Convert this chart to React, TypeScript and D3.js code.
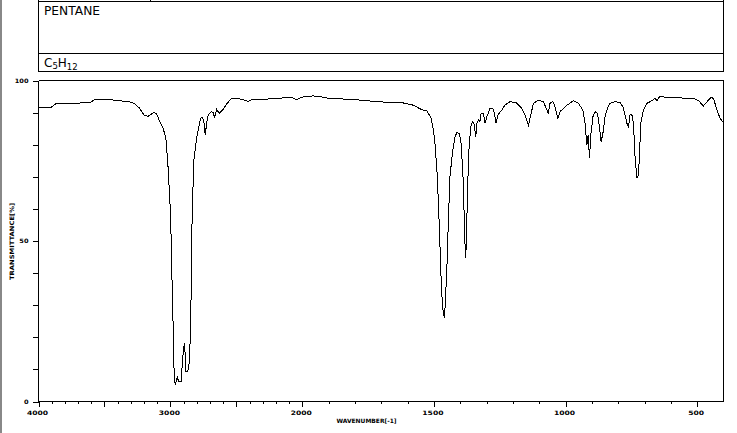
import React from 'react';
import * as d3 from 'd3';

const wavenumber = [
  4000, 3954, 3904, 3866, 3778, 3677, 3601, 3575, 3449, 3398,
  3322, 3272, 3234, 3201, 3171, 3125, 3106, 3080, 3055, 3034,
  3017, 2998, 2991, 2979, 2973, 2964, 2948, 2938, 2918, 2910,
  2903, 2895, 2888, 2882, 2870, 2860, 2852, 2844, 2835, 2822,
  2801, 2784, 2771, 2756, 2746, 2736, 2725, 2713, 2687, 2675,
  2665, 2650, 2630, 2604, 2569, 2536, 2460, 2410, 2372, 2270,
  2169, 2080, 2043, 2005, 1958, 1926, 1895, 1819, 1755, 1692,
  1616, 1578, 1546, 1527, 1521, 1512, 1502, 1496, 1487, 1479,
  1473, 1468, 1464, 1460, 1457, 1451, 1445, 1439, 1430, 1420,
  1413, 1403, 1397, 1390, 1386, 1382, 1379, 1375, 1371, 1367,
  1360, 1354, 1348, 1341, 1337, 1331, 1325, 1321, 1312, 1306,
  1299, 1287, 1276, 1270, 1264, 1257, 1242, 1230, 1211, 1188,
  1166, 1154, 1141, 1132, 1122, 1103, 1084, 1071, 1066, 1059,
  1048, 1040, 1029, 1021, 1008, 993, 970, 951, 934, 926,
  919, 914, 909, 904, 896, 888, 879, 871, 865, 858,
  850, 841, 831, 812, 793, 782, 774, 767, 761, 755,
  748, 742, 736, 729, 723, 719, 714, 704, 691, 672,
  660, 653, 641, 622, 590, 552, 514, 495, 476, 457,
  444, 436, 425, 413, 403,
];

const transmittance = [
  91.4, 91.7, 91.7, 92.8, 92.8, 93.0, 93.3, 94.0, 94.0, 93.7,
  93.5, 92.8, 91.4, 89.3, 88.8, 90.1, 89.7, 87.2, 85.1, 82.0,
  72.6, 57.6, 43.1, 23.3, 10.8, 5.1, 7.7, 6.2, 6.2, 11.9,
  15.0, 18.1, 15.0, 9.3, 9.3, 10.8, 16.6, 30.6, 58.6, 75.2,
  82.0, 85.6, 88.2, 88.5, 87.2, 83.0, 86.7, 89.3, 90.3, 90.0,
  88.4, 91.0, 89.8, 90.8, 92.9, 94.5, 94.2, 93.5, 94.2, 94.2,
  94.5, 94.8, 94.0, 94.8, 95.2, 94.9, 94.3, 94.2, 93.7, 93.3,
  93.0, 92.3, 90.9, 90.6, 89.6, 88.7, 84.6, 80.4, 70.0, 53.4,
  38.9, 30.6, 27.5, 25.9, 30.6, 41.0, 56.5, 70.0, 77.3, 82.5,
  83.7, 83.6, 80.4, 71.1, 60.7, 49.3, 44.6, 56.5, 69.0, 78.3,
  85.6, 87.2, 86.7, 82.5, 86.7, 87.7, 87.2, 89.6, 89.6, 86.7,
  88.7, 91.3, 91.3, 89.8, 86.7, 89.3, 90.8, 92.4, 93.4, 93.1,
  91.3, 89.3, 86.1, 89.3, 92.9, 93.9, 93.4, 90.8, 89.8, 92.9,
  93.4, 91.8, 88.2, 90.3, 91.3, 92.4, 93.7, 92.9, 90.8, 86.7,
  79.9, 83.0, 75.8, 83.0, 88.7, 90.3, 89.8, 85.6, 80.9, 83.6,
  88.7, 91.3, 92.9, 93.4, 93.1, 91.8, 89.3, 86.7, 85.6, 89.3,
  89.3, 86.7, 76.3, 69.5, 70.6, 77.3, 86.7, 90.8, 92.9, 93.7,
  94.5, 93.7, 95.2, 94.8, 94.8, 94.5, 94.5, 93.7, 92.1, 93.9,
  94.9, 93.9, 90.8, 88.2, 87.2,
];

const xLabelValues = [4000, 3000, 2000, 1500, 1000, 500];
const xMajorValues = [4000, 3500, 3000, 2500, 2000, 1500, 1000, 500];
const xMinorValues = d3.range(500, 4001, 100);
const yTickValues = d3.range(0, 101, 10);
const yLabelValues = [0, 50, 100];
const title = 'PENTANE';
const xTitle = 'WAVENUMBER[-1]';
const yTitle = 'TRANSMITTANCE[%]';

const W = 737;
const H = 433;
const left = 38.5;
const right = 723.5;
const top = 80.5;
const bottom = 401.5;

const x = d3.scaleLinear().domain([4000, 2000, 400]).range([left, 302.3, right]);
const y = d3.scaleLinear().domain([0, 100]).range([bottom, top]);

const smallFont = '"DejaVu Sans", sans-serif';

export default function App() {
  const pts = wavenumber.map((w, i) => [w, transmittance[i]] as [number, number]);
  const line = d3
    .line<[number, number]>()
    .x((d) => x(d[0]))
    .y((d) => y(d[1]));
  const path = line(pts) || '';

  return (
    <svg
      width={W}
      height={H}
      style={{ position: 'absolute', left: 0, top: 0, background: '#fff' }}
    >
      <rect x={0} y={0} width={W} height={H} fill="#fff" />
      <rect x={0} y={0} width={2} height={H} fill="#888" />

      {/* header boxes */}
      <g stroke="#000" strokeWidth={1} fill="none" shapeRendering="crispEdges">
        <line x1={left} y1={0} x2={left} y2={71.5} />
        <line x1={right} y1={0} x2={right} y2={71.5} />
        <line x1={150.5} y1={0} x2={150.5} y2={1.5} />
        <line x1={left} y1={1.5} x2={right} y2={1.5} />
        <line x1={left} y1={53.5} x2={right} y2={53.5} />
        <line x1={left} y1={71.5} x2={right} y2={71.5} />
      </g>
      <text
        x={44}
        y={15}
        fontFamily={smallFont}
        fontSize={11.5}
        textLength={56}
        lengthAdjust="spacingAndGlyphs"
        fill="#000"
      >
        {title}
      </text>
      <text x={44} y={66.5} fontFamily={smallFont} fontSize={12} fill="#000">
        <tspan>C</tspan>
        <tspan fontSize={8.5} dy={2}>5</tspan>
        <tspan dy={-2}>H</tspan>
        <tspan fontSize={8.5} dy={3}>12</tspan>
      </text>

      {/* frame */}
      <g stroke="#000" strokeWidth={1} fill="none" shapeRendering="crispEdges">
        <line x1={left} y1={top} x2={right} y2={top} />
        <line x1={left} y1={top} x2={left} y2={bottom} />
        <line x1={right} y1={top} x2={right} y2={bottom} />
        <line x1={left} y1={bottom} x2={right} y2={bottom} />
      </g>

      {/* y ticks */}
      <g stroke="#000" strokeWidth={1} shapeRendering="crispEdges">
        {yTickValues.map((v) => (
          <line key={v} x1={left - 6} x2={left} y1={Math.round(y(v)) + 0.5} y2={Math.round(y(v)) + 0.5} />
        ))}
      </g>
      {yLabelValues.map((v) => {
        const s = String(v);
        return (
          <text
            key={v}
            x={28.5}
            y={y(v) + 2.3}
            textAnchor="end"
            fontFamily={smallFont}
            fontSize={6}
            fontWeight="bold"
            textLength={s.length * 4.6}
            lengthAdjust="spacingAndGlyphs"
            fill="#000"
          >
            {s}
          </text>
        );
      })}

      {/* x ticks */}
      <g stroke="#000" strokeWidth={1} shapeRendering="crispEdges">
        {xMinorValues.map((v) => {
          const major = xMajorValues.includes(v);
          const px = Math.round(x(v)) + 0.5;
          return <line key={v} x1={px} x2={px} y1={bottom} y2={bottom + (major ? 5 : 2.5)} />;
        })}
      </g>
      {xLabelValues.map((v) => {
        const s = String(v);
        return (
          <text
            key={v}
            x={x(v) - 1}
            y={414.5}
            textAnchor="middle"
            fontFamily={smallFont}
            fontSize={6}
            fontWeight="bold"
            textLength={s.length * 5.3}
            lengthAdjust="spacingAndGlyphs"
            fill="#000"
          >
            {s}
          </text>
        );
      })}
      <text
        x={336.5}
        y={422.5}
        fontFamily={smallFont}
        fontSize={6}
        fontWeight="bold"
        textLength={60}
        lengthAdjust="spacingAndGlyphs"
        fill="#000"
      >
        {xTitle}
      </text>
      <text
        transform={`translate(14.3, 241.5) rotate(-90)`}
        textAnchor="middle"
        fontFamily={smallFont}
        fontSize={6}
        fontWeight="bold"
        textLength={77}
        lengthAdjust="spacingAndGlyphs"
        fill="#000"
      >
        {yTitle}
      </text>

      {/* spectrum */}
      <path d={path} fill="none" stroke="#000" strokeWidth={1} shapeRendering="crispEdges" />
    </svg>
  );
}
